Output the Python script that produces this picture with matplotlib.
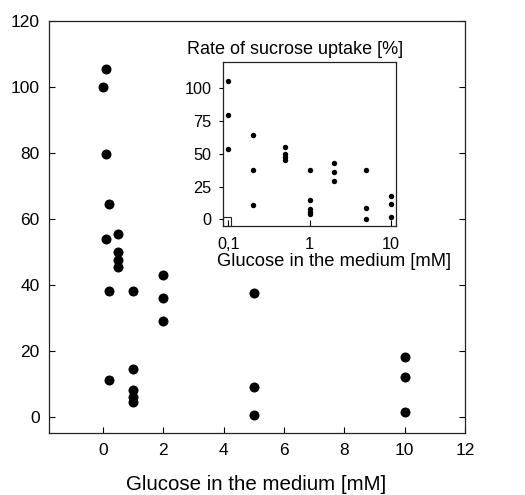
import matplotlib
matplotlib.use("Agg")
import matplotlib.pyplot as plt
from matplotlib.patches import Rectangle
from matplotlib.ticker import NullLocator

plt.rcParams['font.family'] = ['Liberation Sans', 'DejaVu Sans']

# control (no glucose) measured only in the main panel
control_x = [0]
control_y = [100]

glucose_mM = [0.1, 0.1, 0.1,
              0.2, 0.2, 0.2,
              0.5, 0.5, 0.5, 0.5,
              1, 1, 1, 1, 1,
              2, 2, 2,
              5, 5, 5,
              10, 10, 10]
uptake_pct = [105.5, 79.5, 54,
              64.5, 38, 11,
              55.5, 50, 47.5, 45.5,
              38, 14.5, 8, 6, 4.5,
              43, 36, 29,
              37.5, 9, 0.5,
              18, 12, 1.5]

main_xticks = [0, 2, 4, 6, 8, 10, 12]
main_yticks = [0, 20, 40, 60, 80, 100, 120]
inset_xticks = [0.1, 1, 10]
inset_xticklabels = ["0,1", "1", "10"]
inset_yticks = [0, 25, 50, 75, 100]

W, H = 525, 495
fig = plt.figure(figsize=(W / 100, H / 100), dpi=100)

# main panel
ax = fig.add_axes([49.3 / W, 1 - 433 / H, (465 - 49.3) / W, (433 - 21) / H])
ax.scatter(control_x + glucose_mM, control_y + uptake_pct, s=7.2**2, c="black",
           linewidths=0, zorder=3)
ax.set_xlim(-1.78, 12)
ax.set_ylim(-5, 120)
ax.set_xticks(main_xticks)
ax.set_yticks(main_yticks)
ax.tick_params(direction="in", length=4, width=0.8, labelsize=12.5, right=True)
ax.tick_params(axis="y", pad=7)
ax.tick_params(axis="x", pad=7)
for sp in ax.spines.values():
    sp.set_linewidth(0.9)
    sp.set_color("#222222")
fig.text(256 / W, 1 - 485 / H, "Glucose in the medium [mM]", ha="center", va="center",
         fontsize=14.8)

# inset, log scale
axi = fig.add_axes([222.7 / W, 1 - 226 / H, 173.6 / W, 163.7 / H])
axi.scatter(glucose_mM, uptake_pct, s=3.9**2, c="black", linewidths=0, zorder=3)
axi.set_xscale("log")
axi.set_xlim(0.085, 11.7)
axi.set_ylim(-5, 120)
axi.set_xticks(inset_xticks)
axi.set_xticklabels(inset_xticklabels)
axi.xaxis.set_minor_locator(NullLocator())
axi.set_yticks(inset_yticks)
axi.tick_params(axis="x", direction="in", length=4.5, width=0.8, labelsize=11.7, pad=8)
axi.tick_params(axis="y", direction="out", length=3, width=0.8, labelsize=11.7, pad=5)
for sp in axi.spines.values():
    sp.set_linewidth(0.9)
    sp.set_color("#222222")
axi.add_patch(Rectangle((0, 0), 0.046, 0.052, transform=axi.transAxes, fill=False,
                        lw=0.8, edgecolor="#222222", clip_on=False))
fig.text(295 / W, 1 - 49 / H, "Rate of sucrose uptake [%]", ha="center", va="center",
         fontsize=13)
fig.text(334 / W, 1 - 262 / H, "Glucose in the medium [mM]", ha="center", va="center",
         fontsize=13.2)

fig.savefig("out.png", dpi=100)
